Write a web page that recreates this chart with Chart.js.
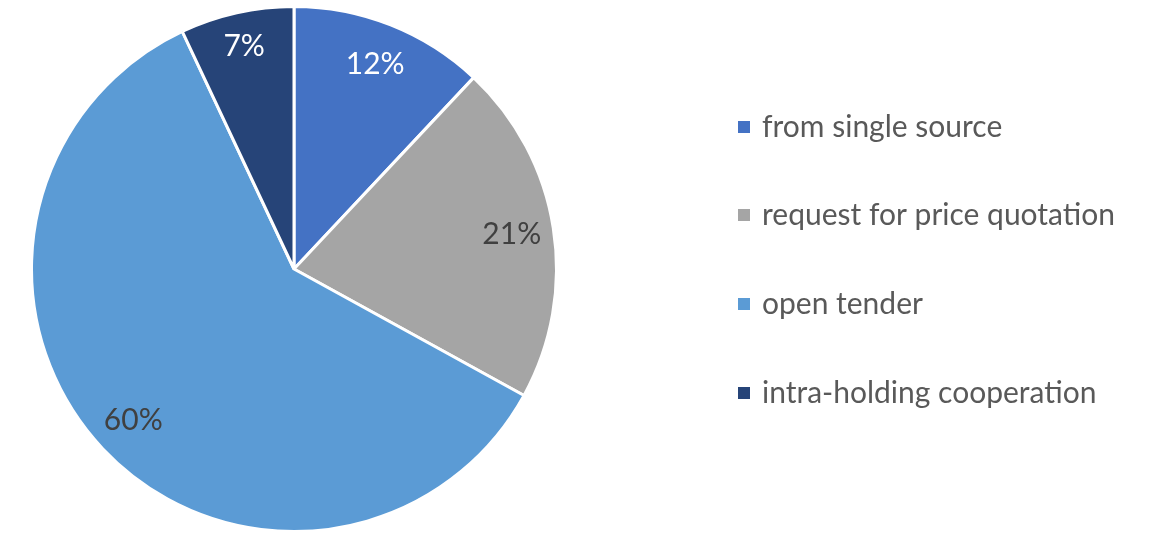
<!DOCTYPE html>
<html>
<head>
<meta charset="utf-8">
<script src="https://cdn.jsdelivr.net/npm/chart.js@4"></script>
<style>
  html, body { margin: 0; padding: 0; background: #fff; }
  #procurementChart { display: block; }
</style>
</head>
<body>
<canvas id="procurementChart" width="1150" height="533"></canvas>
<script>
const categories = ['from single source', 'request for price quotation', 'open tender', 'intra-holding cooperation'];
const shares = [12, 21, 60, 7];
const sliceColors = ['#4472C4', '#A5A5A5', '#5B9BD5', '#264478'];
const labelColors = ['#FFFFFF', '#404040', '#404040', '#FFFFFF'];

const FONT = 'Lato, "Open Sans", sans-serif';

// percentage labels inside each slice
const sliceLabels = {
    id: 'sliceLabels',
    afterDatasetsDraw(chart) {
        const ctx = chart.ctx;
        const meta = chart.getDatasetMeta(0);
        ctx.save();
        ctx.font = '30px ' + FONT;
        ctx.textAlign = 'center';
        ctx.textBaseline = 'middle';
        meta.data.forEach((arc, i) => {
            const p = arc.getProps(['x', 'y', 'startAngle', 'endAngle', 'outerRadius'], true);
            const mid = (p.startAngle + p.endAngle) / 2;
            const r = p.outerRadius * (shares[i] < 10 ? 0.87 : 0.84);
            ctx.fillStyle = labelColors[i];
            ctx.fillText(shares[i] + '%', p.x + Math.cos(mid) * r, p.y + Math.sin(mid) * r);
        });
        ctx.restore();
    }
};

// legend on the right, drawn from the same arrays
const sideLegend = {
    id: 'sideLegend',
    afterDraw(chart) {
        const ctx = chart.ctx;
        const rowY = [127, 215, 304, 393];
        ctx.save();
        ctx.font = '30px ' + FONT;
        ctx.textBaseline = 'middle';
        categories.forEach((name, i) => {
            ctx.fillStyle = sliceColors[i];
            ctx.fillRect(738, rowY[i] - 6, 12, 12);
            ctx.fillStyle = '#595959';
            ctx.fillText(name, 762, rowY[i]);
        });
        ctx.restore();
    }
};

new Chart(document.getElementById('procurementChart'), {
    type: 'pie',
    data: {
        labels: categories,
        datasets: [{
            data: shares,
            backgroundColor: sliceColors,
            borderColor: '#FFFFFF',
            borderWidth: 3
        }]
    },
    options: {
        responsive: false,
        animation: false,
        layout: { padding: { left: 28, right: 590, top: 5, bottom: -4 } },
        plugins: {
            legend: { display: false },
            tooltip: { enabled: false }
        }
    },
    plugins: [sliceLabels, sideLegend]
});
</script>
</body>
</html>
